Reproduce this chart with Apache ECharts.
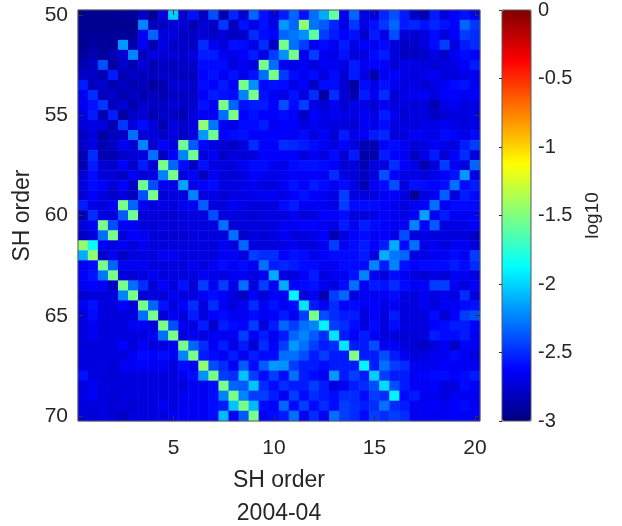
<!DOCTYPE html>
<html><head><meta charset="utf-8">
<script src="https://cdn.jsdelivr.net/npm/echarts@6/dist/echarts.min.js"></script>
<style>html,body{margin:0;padding:0;background:#fff}#c{width:622px;height:526px}</style>
</head><body><div id="c"></div>
<script>
// SH order categories (columns, x) and SH order (rows, y)
const xOrders = [0.5,1,1.5,2,2.5,3,3.5,4,4.5,5,5.5,6,6.5,7,7.5,8,8.5,9,9.5,10,
                 10.5,11,11.5,12,12.5,13,13.5,14,14.5,15,15.5,16,16.5,17,17.5,18,18.5,19,19.5,20];
const yOrders = [50,50.5,51,51.5,52,52.5,53,53.5,54,54.5,55,55.5,56,56.5,57,57.5,58,58.5,59,59.5,
                 60,60.5,61,61.5,62,62.5,63,63.5,64,64.5,65,65.5,66,66.5,67,67.5,68,68.5,69,69.5,70];
const xTickLabels = [5,10,15,20];
const yTickLabels = [50,55,60,65,70];
const colorbarTicks = [0,-0.5,-1,-1.5,-2,-2.5,-3];
const xTitle = 'SH order';
const yTitle = 'SH order';
const dateLabel = '2004-04';
const colorbarTitle = 'log10';

// log10 values, one row per y order (50 ... 70), 40 columns each
const cellRows = [
[-2.95,-2.95,-2.95,-2.95,-2.92,-2.92,-2.80,-2.93,-2.72,-2.02,-2.78,-2.58,-2.80,-2.40,-2.85,-2.52,-2.75,-2.33,-2.58,-2.72,-2.55,-2.33,-2.58,-2.30,-2.12,-1.58,-2.66,-2.33,-2.72,-2.72,-2.52,-2.40,-2.55,-2.78,-2.85,-2.55,-2.72,-2.63,-2.58,-2.63],
[-2.95,-2.95,-2.95,-2.95,-2.95,-2.95,-2.24,-2.82,-2.80,-2.75,-2.75,-2.85,-2.75,-2.80,-2.47,-2.82,-2.58,-2.70,-2.58,-2.70,-2.18,-2.33,-1.45,-2.28,-2.36,-2.52,-2.70,-2.47,-2.70,-2.58,-2.47,-2.33,-2.55,-2.52,-2.58,-2.52,-2.58,-2.63,-2.33,-2.47],
[-2.93,-2.93,-2.93,-2.93,-2.93,-2.93,-2.66,-2.33,-2.72,-2.72,-2.80,-2.80,-2.75,-2.78,-2.75,-2.80,-2.78,-2.50,-2.60,-2.63,-2.33,-2.28,-2.20,-1.60,-2.45,-2.55,-2.63,-2.58,-2.78,-2.55,-2.70,-2.40,-2.75,-2.75,-2.72,-2.60,-2.72,-2.63,-2.45,-2.50],
[-2.95,-2.90,-2.92,-2.93,-2.18,-2.85,-2.66,-2.85,-2.70,-2.80,-2.78,-2.80,-2.50,-2.66,-2.72,-2.58,-2.60,-2.70,-2.50,-2.80,-1.52,-2.30,-2.45,-2.66,-2.60,-2.66,-2.55,-2.70,-2.63,-2.66,-2.60,-2.72,-2.80,-2.78,-2.72,-2.60,-2.45,-2.72,-2.55,-2.50],
[-2.92,-2.85,-2.92,-2.85,-2.75,-2.24,-2.82,-2.72,-2.75,-2.75,-2.78,-2.72,-2.55,-2.55,-2.66,-2.70,-2.63,-2.55,-2.70,-2.45,-2.20,-1.52,-2.66,-2.45,-2.66,-2.70,-2.58,-2.72,-2.72,-2.60,-2.55,-2.72,-2.80,-2.80,-2.78,-2.70,-2.78,-2.66,-2.60,-2.63],
[-2.85,-2.80,-2.40,-2.90,-2.78,-2.85,-2.75,-2.85,-2.80,-2.82,-2.78,-2.78,-2.60,-2.60,-2.60,-2.72,-2.66,-2.72,-1.52,-2.30,-2.66,-2.70,-2.66,-2.72,-2.66,-2.66,-2.70,-2.55,-2.66,-2.63,-2.63,-2.75,-2.70,-2.70,-2.72,-2.75,-2.72,-2.70,-2.63,-2.55],
[-2.78,-2.80,-2.85,-2.55,-2.85,-2.80,-2.82,-2.82,-2.78,-2.80,-2.82,-2.80,-2.62,-2.58,-2.66,-2.58,-2.70,-2.58,-2.30,-1.52,-2.45,-2.60,-2.66,-2.60,-2.72,-2.60,-2.75,-2.55,-2.70,-2.85,-2.66,-2.63,-2.70,-2.72,-2.70,-2.66,-2.72,-2.72,-2.70,-2.66],
[-2.55,-2.82,-2.78,-2.85,-2.82,-2.85,-2.82,-2.90,-2.85,-2.75,-2.75,-2.78,-2.60,-2.63,-2.55,-2.63,-1.52,-2.20,-2.60,-2.58,-2.60,-2.70,-2.63,-2.80,-2.60,-2.60,-2.75,-2.90,-2.60,-2.70,-2.58,-2.66,-2.72,-2.70,-2.75,-2.70,-2.66,-2.60,-2.58,-2.66],
[-2.66,-2.50,-2.82,-2.78,-2.85,-2.80,-2.85,-2.82,-2.85,-2.80,-2.80,-2.78,-2.63,-2.55,-2.58,-2.60,-2.24,-1.52,-2.58,-2.66,-2.70,-2.58,-2.72,-2.50,-2.90,-2.50,-2.75,-2.85,-2.55,-2.66,-2.50,-2.75,-2.70,-2.66,-2.66,-2.72,-2.63,-2.63,-2.66,-2.63],
[-2.66,-2.58,-2.47,-2.82,-2.75,-2.85,-2.78,-2.80,-2.80,-2.75,-2.80,-2.78,-2.58,-2.63,-1.52,-2.33,-2.58,-2.55,-2.55,-2.63,-2.40,-2.60,-2.45,-2.70,-2.75,-2.66,-2.75,-2.70,-2.70,-2.75,-2.66,-2.72,-2.72,-2.75,-2.72,-2.85,-2.70,-2.66,-2.72,-2.70],
[-2.70,-2.55,-2.85,-2.55,-2.90,-2.78,-2.75,-2.85,-2.78,-2.80,-2.85,-2.72,-2.66,-2.66,-2.30,-1.52,-2.63,-2.58,-2.63,-2.63,-2.60,-2.63,-2.80,-2.63,-2.70,-2.66,-2.70,-2.72,-2.66,-2.70,-2.55,-2.66,-2.75,-2.72,-2.72,-2.80,-2.75,-2.72,-2.72,-2.70],
[-2.75,-2.70,-2.72,-2.85,-2.47,-2.72,-2.60,-2.72,-2.85,-2.72,-2.78,-2.72,-1.45,-2.28,-2.66,-2.70,-2.60,-2.60,-2.55,-2.66,-2.63,-2.63,-2.72,-2.66,-2.70,-2.72,-2.72,-2.75,-2.66,-2.70,-2.60,-2.72,-2.72,-2.72,-2.70,-2.70,-2.66,-2.70,-2.72,-2.70],
[-2.80,-2.72,-2.90,-2.82,-2.80,-2.30,-2.75,-2.72,-2.80,-2.72,-2.80,-2.72,-2.18,-1.55,-2.63,-2.60,-2.58,-2.63,-2.63,-2.63,-2.63,-2.66,-2.60,-2.72,-2.63,-2.75,-2.55,-2.70,-2.66,-2.55,-2.52,-2.72,-2.72,-2.66,-2.66,-2.70,-2.60,-2.63,-2.70,-2.60],
[-2.78,-2.72,-2.85,-2.80,-2.66,-2.75,-2.24,-2.78,-2.63,-2.72,-1.55,-2.36,-2.62,-2.72,-2.75,-2.80,-2.72,-2.50,-2.63,-2.63,-2.50,-2.52,-2.55,-2.60,-2.66,-2.72,-2.63,-2.72,-2.85,-2.85,-2.63,-2.60,-2.66,-2.75,-2.72,-2.66,-2.70,-2.72,-2.55,-2.45],
[-2.85,-2.50,-2.85,-2.85,-2.78,-2.75,-2.72,-2.30,-2.82,-2.63,-2.24,-1.55,-2.72,-2.66,-2.80,-2.72,-2.75,-2.72,-2.63,-2.63,-2.63,-2.63,-2.72,-2.66,-2.72,-2.60,-2.75,-2.55,-2.88,-2.85,-2.55,-2.63,-2.66,-2.80,-2.70,-2.55,-2.75,-2.63,-2.50,-2.72],
[-2.85,-2.55,-2.75,-2.78,-2.63,-2.78,-2.55,-2.75,-1.52,-2.33,-2.60,-2.80,-2.58,-2.72,-2.72,-2.72,-2.66,-2.60,-2.60,-2.66,-2.70,-2.60,-2.58,-2.58,-2.60,-2.63,-2.75,-2.72,-2.85,-2.72,-2.72,-2.50,-2.63,-2.70,-2.85,-2.72,-2.45,-2.66,-2.72,-2.33],
[-2.75,-2.60,-2.75,-2.75,-2.80,-2.66,-2.75,-2.72,-2.24,-1.52,-2.72,-2.63,-2.82,-2.66,-2.72,-2.75,-2.72,-2.63,-2.66,-2.70,-2.66,-2.63,-2.66,-2.63,-2.66,-2.50,-2.70,-2.75,-2.80,-2.72,-2.40,-2.63,-2.70,-2.70,-2.72,-2.70,-2.63,-2.58,-2.18,-2.70],
[-2.72,-2.60,-2.63,-2.75,-2.63,-2.80,-1.55,-2.40,-2.66,-2.70,-2.15,-2.70,-2.63,-2.60,-2.72,-2.72,-2.70,-2.66,-2.72,-2.72,-2.66,-2.58,-2.63,-2.55,-2.60,-2.66,-2.60,-2.70,-2.85,-2.66,-2.60,-2.40,-2.72,-2.58,-2.60,-2.63,-2.58,-2.30,-2.60,-2.55],
[-2.75,-2.63,-2.72,-2.78,-2.72,-2.82,-2.40,-1.52,-2.75,-2.72,-2.72,-2.24,-2.72,-2.70,-2.75,-2.72,-2.70,-2.70,-2.66,-2.66,-2.70,-2.63,-2.58,-2.63,-2.66,-2.70,-2.45,-2.72,-2.72,-2.72,-2.66,-2.63,-2.72,-2.92,-2.72,-2.66,-2.35,-2.72,-2.55,-2.60],
[-2.55,-2.70,-2.72,-2.66,-1.52,-2.33,-2.66,-2.72,-2.70,-2.72,-2.66,-2.66,-2.35,-2.72,-2.72,-2.66,-2.70,-2.72,-2.72,-2.72,-2.60,-2.55,-2.66,-2.66,-2.66,-2.70,-2.45,-2.60,-2.60,-2.60,-2.63,-2.66,-2.72,-2.66,-2.63,-2.30,-2.66,-2.60,-2.60,-2.60],
[-2.85,-2.50,-2.72,-2.72,-2.36,-1.55,-2.75,-2.72,-2.75,-2.75,-2.72,-2.72,-2.72,-2.40,-2.72,-2.72,-2.72,-2.75,-2.72,-2.72,-2.72,-2.66,-2.72,-2.72,-2.63,-2.63,-2.60,-2.72,-2.72,-2.70,-2.63,-2.66,-2.70,-2.66,-2.15,-2.66,-2.55,-2.66,-2.66,-2.63],
[-2.72,-2.66,-1.52,-2.40,-2.63,-2.66,-2.72,-2.75,-2.72,-2.75,-2.72,-2.72,-2.72,-2.72,-2.30,-2.75,-2.72,-2.72,-2.72,-2.72,-2.66,-2.66,-2.63,-2.63,-2.66,-2.70,-2.55,-2.66,-2.55,-2.60,-2.63,-2.66,-2.66,-2.24,-2.63,-2.36,-2.72,-2.70,-2.70,-2.63],
[-2.80,-2.72,-2.30,-1.52,-2.72,-2.63,-2.66,-2.72,-2.75,-2.75,-2.75,-2.72,-2.72,-2.72,-2.72,-2.30,-2.78,-2.72,-2.75,-2.72,-2.66,-2.72,-2.72,-2.70,-2.63,-2.85,-2.72,-2.63,-2.60,-2.66,-2.63,-2.70,-2.40,-2.72,-2.70,-2.72,-2.72,-2.72,-2.72,-2.80],
[-1.45,-1.85,-2.66,-2.72,-2.66,-2.72,-2.66,-2.72,-2.72,-2.72,-2.72,-2.72,-2.72,-2.72,-2.66,-2.72,-2.33,-2.72,-2.72,-2.72,-2.70,-2.66,-2.72,-2.72,-2.66,-2.45,-2.66,-2.60,-2.55,-2.63,-2.55,-2.12,-2.60,-2.30,-2.70,-2.66,-2.72,-2.66,-2.66,-2.72],
[-2.12,-1.45,-2.78,-2.66,-2.80,-2.72,-2.72,-2.72,-2.66,-2.66,-2.72,-2.72,-2.72,-2.72,-2.66,-2.66,-2.72,-2.45,-2.50,-2.50,-2.63,-2.58,-2.60,-2.70,-2.63,-2.60,-2.60,-2.60,-2.55,-2.72,-2.12,-2.28,-2.33,-2.72,-2.70,-2.66,-2.66,-2.60,-2.66,-2.45],
[-2.66,-2.60,-1.52,-2.33,-2.66,-2.66,-2.66,-2.72,-2.72,-2.72,-2.72,-2.66,-2.72,-2.66,-2.60,-2.66,-2.60,-2.66,-2.30,-2.55,-2.52,-2.55,-2.60,-2.60,-2.66,-2.66,-2.60,-2.60,-2.60,-2.24,-2.55,-2.24,-2.58,-2.63,-2.60,-2.60,-2.60,-2.55,-2.60,-2.50],
[-2.63,-2.58,-2.28,-1.52,-2.72,-2.75,-2.72,-2.66,-2.72,-2.72,-2.72,-2.72,-2.66,-2.70,-2.72,-2.66,-2.66,-2.72,-2.66,-2.12,-2.72,-2.72,-2.63,-2.55,-2.72,-2.66,-2.66,-2.58,-2.24,-2.66,-2.72,-2.60,-2.66,-2.72,-2.75,-2.70,-2.75,-2.66,-2.66,-2.72],
[-2.66,-2.63,-2.66,-2.80,-1.52,-2.30,-2.50,-2.75,-2.63,-2.72,-2.58,-2.75,-2.45,-2.66,-2.45,-2.70,-2.30,-2.72,-2.45,-2.66,-2.12,-2.63,-2.60,-2.58,-2.66,-2.72,-2.60,-2.30,-2.66,-2.55,-2.58,-2.50,-2.60,-2.66,-2.63,-2.45,-2.45,-2.66,-2.72,-2.63],
[-2.75,-2.72,-2.72,-2.72,-2.24,-1.52,-2.75,-2.72,-2.75,-2.66,-2.72,-2.72,-2.66,-2.60,-2.66,-2.72,-2.80,-2.63,-2.75,-2.66,-2.66,-1.90,-2.72,-2.66,-2.85,-2.45,-2.33,-2.72,-2.66,-2.66,-2.66,-2.60,-2.70,-2.72,-2.66,-2.72,-2.66,-2.72,-2.50,-2.72],
[-2.66,-2.58,-2.72,-2.72,-2.63,-2.72,-1.52,-2.33,-2.58,-2.72,-2.63,-2.50,-2.72,-2.50,-2.66,-2.72,-2.66,-2.50,-2.66,-2.58,-2.66,-2.60,-1.95,-2.55,-2.66,-2.50,-2.63,-2.60,-2.66,-2.63,-2.70,-2.66,-2.72,-2.72,-2.66,-2.72,-2.66,-2.66,-2.60,-2.58],
[-2.72,-2.60,-2.72,-2.72,-2.72,-2.72,-2.30,-1.52,-2.75,-2.66,-2.72,-2.55,-2.72,-2.63,-2.60,-2.66,-2.66,-2.60,-2.66,-2.63,-2.55,-2.66,-2.45,-1.52,-2.40,-2.50,-2.55,-2.55,-2.72,-2.63,-2.72,-2.55,-2.72,-2.72,-2.72,-2.60,-2.75,-2.63,-2.45,-2.40],
[-2.72,-2.66,-2.72,-2.72,-2.72,-2.66,-2.66,-2.72,-1.52,-2.40,-2.66,-2.72,-2.55,-2.78,-2.55,-2.60,-2.63,-2.45,-2.72,-2.55,-2.33,-2.45,-2.30,-2.24,-1.90,-2.45,-2.50,-2.60,-2.72,-2.60,-2.72,-2.60,-2.72,-2.72,-2.72,-2.63,-2.60,-2.55,-2.55,-2.63],
[-2.72,-2.66,-2.72,-2.72,-2.72,-2.72,-2.72,-2.66,-2.30,-1.52,-2.72,-2.66,-2.72,-2.66,-2.66,-2.66,-2.45,-2.66,-2.55,-2.66,-2.55,-2.33,-2.24,-2.36,-2.50,-1.95,-2.55,-2.63,-2.55,-2.66,-2.72,-2.72,-2.75,-2.75,-2.72,-2.55,-2.60,-2.60,-2.55,-2.66],
[-2.72,-2.72,-2.72,-2.72,-2.63,-2.72,-2.66,-2.72,-2.72,-2.66,-1.52,-2.33,-2.50,-2.66,-2.55,-2.70,-2.55,-2.75,-2.50,-2.63,-2.45,-2.18,-2.30,-2.45,-2.55,-2.50,-1.95,-2.55,-2.55,-2.40,-2.66,-2.66,-2.72,-2.75,-2.80,-2.72,-2.66,-2.80,-2.63,-2.66],
[-2.72,-2.72,-2.72,-2.72,-2.72,-2.66,-2.60,-2.63,-2.60,-2.66,-2.24,-1.52,-2.55,-2.60,-2.66,-2.55,-2.66,-2.55,-2.60,-2.60,-2.30,-2.30,-2.40,-2.55,-2.45,-2.55,-2.55,-1.50,-2.55,-2.55,-2.40,-2.55,-2.66,-2.72,-2.72,-2.66,-2.66,-2.60,-2.66,-2.72],
[-2.72,-2.72,-2.72,-2.75,-2.66,-2.66,-2.63,-2.66,-2.66,-2.72,-2.60,-2.66,-1.45,-2.40,-2.50,-2.66,-2.36,-2.60,-2.36,-2.18,-2.20,-2.45,-2.55,-2.55,-2.60,-2.55,-2.55,-2.55,-1.90,-2.55,-2.30,-2.45,-2.50,-2.66,-2.66,-2.66,-2.63,-2.66,-2.66,-2.66],
[-2.58,-2.72,-2.72,-2.75,-2.72,-2.72,-2.72,-2.72,-2.72,-2.72,-2.66,-2.60,-2.20,-1.52,-2.45,-2.50,-2.05,-2.45,-2.60,-2.45,-2.60,-2.30,-2.55,-2.60,-2.66,-2.18,-2.55,-2.45,-2.55,-2.02,-2.45,-2.55,-2.55,-2.66,-2.63,-2.60,-2.60,-2.63,-2.60,-2.55],
[-2.72,-2.66,-2.72,-2.72,-2.72,-2.72,-2.72,-2.72,-2.72,-2.72,-2.72,-2.66,-2.66,-2.60,-1.52,-2.33,-2.36,-2.05,-2.50,-2.60,-2.50,-2.55,-2.55,-2.45,-2.55,-2.72,-2.66,-2.55,-2.50,-2.40,-1.98,-2.40,-2.55,-2.63,-2.66,-2.63,-2.72,-2.72,-2.60,-2.63],
[-2.70,-2.66,-2.72,-2.75,-2.72,-2.72,-2.72,-2.72,-2.72,-2.72,-2.66,-2.66,-2.66,-2.60,-2.24,-1.52,-2.24,-2.45,-2.45,-2.55,-2.66,-2.45,-2.60,-2.50,-2.55,-2.60,-2.50,-2.50,-2.60,-2.45,-2.50,-1.90,-2.60,-2.55,-2.66,-2.66,-2.72,-2.66,-2.66,-2.66],
[-2.72,-2.72,-2.72,-2.75,-2.72,-2.75,-2.72,-2.72,-2.66,-2.72,-2.66,-2.66,-2.66,-2.60,-2.55,-2.05,-1.52,-2.08,-2.60,-2.63,-2.33,-2.60,-2.45,-2.60,-2.50,-2.60,-2.45,-2.50,-2.55,-2.50,-2.30,-2.50,-2.55,-2.66,-2.66,-2.63,-2.66,-2.63,-2.60,-2.66],
[-2.72,-2.75,-2.72,-2.75,-2.80,-2.72,-2.72,-2.72,-2.72,-2.66,-2.66,-2.66,-2.66,-2.60,-2.08,-2.66,-2.36,-1.52,-2.66,-2.60,-2.55,-2.30,-2.66,-2.50,-2.66,-2.30,-2.45,-2.50,-2.60,-2.45,-2.50,-2.45,-2.50,-2.66,-2.66,-2.66,-2.66,-2.63,-2.66,-2.63]
];

const jetColors = ['#000080','#0000ff','#0080ff','#00ffff','#80ff80','#ffff00','#ff8000','#ff0000','#800000'];

const cells = [];
cellRows.forEach((row, r) => row.forEach((v, c) => cells.push([c, r, v])));

const font = '"Liberation Sans", Arial, Helvetica, sans-serif';
const txt = '#262626';
const frame = '#5a5a5a';
const isXTick = (i, v) => xTickLabels.includes(Number(v));
const isYTick = (i, v) => yTickLabels.includes(Number(v));

const chart = echarts.init(document.getElementById('c'), null, {renderer: 'canvas'});
chart.setOption({
  animation: false,
  backgroundColor: '#ffffff',
  textStyle: {fontFamily: font, color: txt},
  grid: [
    {left: 78, top: 10, width: 402, height: 411, show: true, borderColor: frame, borderWidth: 1, backgroundColor: 'transparent', z: 10, outerBoundsMode: 'none', containLabel: false},
    {left: 502, top: 10, width: 29, height: 411, show: true, borderColor: frame, borderWidth: 1, backgroundColor: 'transparent', z: 10, outerBoundsMode: 'none', containLabel: false}
  ],
  xAxis: [
    {type: 'category', gridIndex: 0, data: xOrders, position: 'bottom', z: 10,
     axisLine: {show: false},
     axisTick: {show: true, inside: true, alignWithLabel: true, interval: isXTick, length: 5, lineStyle: {color: '#333'}},
     axisLabel: {interval: isXTick, fontSize: 21, color: txt, margin: 17, fontFamily: font},
     splitLine: {show: false},
     name: xTitle + '\n' + dateLabel, nameLocation: 'middle', nameGap: 41,
     nameTextStyle: {fontSize: 23, color: txt, lineHeight: 33, fontFamily: font}},
    {type: 'category', gridIndex: 0, data: xOrders, position: 'top', z: 10,
     axisLine: {show: false},
     axisTick: {show: true, inside: true, alignWithLabel: true, interval: isXTick, length: 5, lineStyle: {color: '#333'}},
     axisLabel: {show: false}, splitLine: {show: false}},
    {type: 'value', gridIndex: 1, show: false, min: 0, max: 1}
  ],
  yAxis: [
    {type: 'category', gridIndex: 0, data: yOrders, inverse: true, position: 'left', z: 10,
     axisLine: {show: false},
     axisTick: {show: true, inside: true, alignWithLabel: true, interval: isYTick, length: 5, lineStyle: {color: '#333'}},
     axisLabel: {interval: isYTick, fontSize: 21, color: txt, margin: 10, fontFamily: font},
     splitLine: {show: false},
     name: yTitle, nameLocation: 'middle', nameGap: 37, nameRotate: 90,
     nameTextStyle: {fontSize: 23, color: txt, fontFamily: font}},
    {type: 'category', gridIndex: 0, data: yOrders, inverse: true, position: 'right', z: 10,
     axisLine: {show: false},
     axisTick: {show: true, inside: true, alignWithLabel: true, interval: isYTick, length: 5, lineStyle: {color: '#333'}},
     axisLabel: {show: false}, splitLine: {show: false}},
    {type: 'value', gridIndex: 1, min: -3, max: 0, interval: 0.5, position: 'right', z: 10,
     axisLine: {show: false},
     axisTick: {show: true, inside: true, length: 3, lineStyle: {color: '#333'}},
     axisLabel: {fontSize: 20, color: txt, margin: 7, fontFamily: font,
                 customValues: colorbarTicks},
     splitLine: {show: false},
     name: colorbarTitle, nameLocation: 'middle', nameGap: 52, nameRotate: 90,
     nameTextStyle: {fontSize: 19, color: txt, fontFamily: font}}
  ],
  visualMap: {
    type: 'continuous', min: -3, max: 0, calculable: false, orient: 'vertical',
    left: 502, top: 10, itemWidth: 29, itemHeight: 411, padding: 0,
    seriesIndex: 0, inRange: {color: jetColors}, hoverLink: false
  },
  series: [{
    type: 'heatmap', xAxisIndex: 0, yAxisIndex: 0, data: cells,
    itemStyle: {borderWidth: 0}, emphasis: {disabled: true}, progressive: 0
  }]
});
</script>
</body></html>
